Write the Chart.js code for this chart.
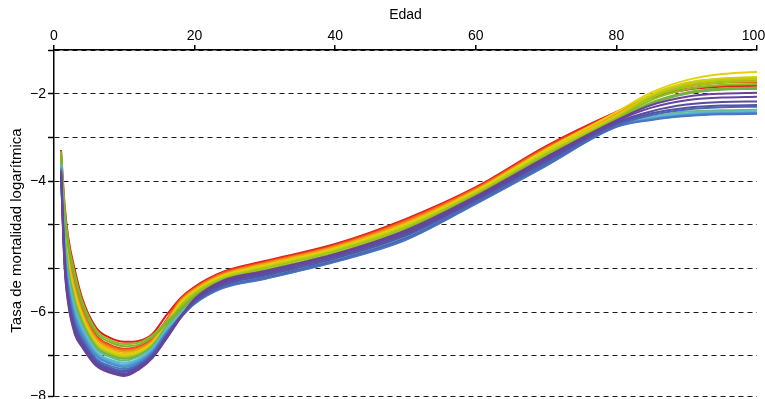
<!DOCTYPE html>
<html>
<head>
<meta charset="utf-8">
<script src="https://cdn.jsdelivr.net/npm/chart.js@4.4.1/dist/chart.umd.min.js"></script>
<style>
  html, body { margin: 0; padding: 0; background: #ffffff; }
  canvas { display: block; }
</style>
</head>
<body>
<canvas id="chart" width="765" height="399"></canvas>
<script>
// Ages (years) at which each curve is sampled
const ages = [1, 1.5, 2, 3, 4, 6, 8, 10, 12, 14, 16, 18, 20, 24, 30, 40, 50, 60, 70, 80, 85, 90, 95, 100];

// Smoothed log mortality curves, one per period (red = earliest ... purple = latest)
const s0  = [-3.29,-4.52,-5.26,-6.06,-6.68,-7.36,-7.59,-7.68,-7.66,-7.50,-7.07,-6.68,-6.42,-6.08,-5.83,-5.44,-4.87,-4.14,-3.20,-2.42,-2.09,-1.91,-1.84,-1.82];
const s1  = [-3.40,-4.80,-5.57,-6.35,-6.90,-7.53,-7.75,-7.84,-7.79,-7.61,-7.18,-6.70,-6.44,-6.10,-5.85,-5.46,-4.89,-4.16,-3.22,-2.43,-2.08,-1.89,-1.81,-1.79];
const s2  = [-3.42,-4.85,-5.61,-6.40,-6.94,-7.56,-7.77,-7.86,-7.81,-7.63,-7.19,-6.72,-6.46,-6.11,-5.87,-5.48,-4.91,-4.17,-3.24,-2.45,-2.05,-1.84,-1.75,-1.73];
const s3  = [-3.43,-4.89,-5.66,-6.44,-6.97,-7.59,-7.80,-7.88,-7.83,-7.64,-7.21,-6.74,-6.47,-6.13,-5.88,-5.49,-4.93,-4.19,-3.26,-2.46,-2.04,-1.81,-1.71,-1.69];
const s4  = [-3.46,-4.95,-5.72,-6.50,-7.02,-7.62,-7.83,-7.91,-7.86,-7.67,-7.23,-6.76,-6.49,-6.15,-5.90,-5.51,-4.96,-4.21,-3.28,-2.48,-2.03,-1.78,-1.68,-1.66];
const s5  = [-3.48,-5.02,-5.80,-6.57,-7.07,-7.67,-7.87,-7.95,-7.89,-7.69,-7.26,-6.78,-6.51,-6.16,-5.92,-5.53,-4.98,-4.22,-3.30,-2.50,-2.02,-1.75,-1.65,-1.62];
const s6  = [-3.50,-5.06,-5.84,-6.62,-7.11,-7.69,-7.89,-7.98,-7.91,-7.71,-7.28,-6.80,-6.53,-6.18,-5.94,-5.55,-5.00,-4.24,-3.28,-2.42,-1.97,-1.69,-1.55,-1.50];
const s7  = [-3.52,-5.10,-5.89,-6.66,-7.14,-7.72,-7.92,-8.00,-7.93,-7.73,-7.29,-6.82,-6.55,-6.20,-5.96,-5.57,-5.02,-4.26,-3.34,-2.53,-2.03,-1.76,-1.66,-1.63];
const s8  = [-3.54,-5.16,-5.95,-6.72,-7.18,-7.75,-7.95,-8.03,-7.96,-7.75,-7.31,-6.85,-6.56,-6.22,-5.98,-5.59,-5.05,-4.28,-3.37,-2.55,-2.06,-1.79,-1.69,-1.66];
const s9  = [-3.55,-5.20,-5.99,-6.76,-7.22,-7.78,-7.97,-8.05,-7.98,-7.76,-7.33,-6.87,-6.58,-6.24,-6.00,-5.61,-5.07,-4.30,-3.39,-2.56,-2.09,-1.84,-1.74,-1.71];
const s10 = [-3.32,-4.61,-5.35,-6.15,-6.75,-7.41,-7.64,-7.73,-7.70,-7.53,-7.22,-6.91,-6.62,-6.27,-6.04,-5.65,-5.11,-4.33,-3.43,-2.59,-2.14,-1.90,-1.80,-1.78];
const s11 = [-3.36,-4.71,-5.46,-6.25,-6.83,-7.47,-7.69,-7.78,-7.75,-7.57,-7.26,-6.94,-6.65,-6.30,-6.07,-5.68,-5.15,-4.36,-3.46,-2.62,-2.20,-1.97,-1.88,-1.86];
const s12 = [-3.57,-5.23,-6.03,-6.79,-7.24,-7.80,-7.99,-8.07,-7.99,-7.78,-7.34,-6.98,-6.68,-6.32,-6.10,-5.71,-5.19,-4.39,-3.50,-2.64,-2.23,-2.00,-1.91,-1.89];
const s13 = [-3.59,-5.30,-6.10,-6.86,-7.30,-7.84,-8.03,-8.11,-8.02,-7.80,-7.37,-7.01,-6.71,-6.35,-6.13,-5.74,-5.23,-4.42,-3.53,-2.70,-2.53,-2.41,-2.38,-2.37];
const s14 = [-3.63,-5.40,-6.21,-6.97,-7.37,-7.90,-8.09,-8.16,-8.07,-7.84,-7.40,-7.06,-6.75,-6.40,-6.18,-5.79,-5.28,-4.46,-3.58,-2.71,-2.54,-2.45,-2.41,-2.40];
const s15 = [-3.65,-5.46,-6.27,-7.02,-7.42,-7.93,-8.12,-8.20,-8.10,-7.86,-7.43,-7.09,-6.77,-6.41,-6.20,-5.81,-5.30,-4.48,-3.61,-2.73,-2.56,-2.47,-2.43,-2.42];
const s16 = [-3.68,-5.51,-6.33,-7.08,-7.46,-7.97,-8.15,-8.23,-8.12,-7.89,-7.45,-7.10,-6.79,-6.43,-6.22,-5.83,-5.32,-4.50,-3.62,-2.74,-2.58,-2.49,-2.45,-2.44];
const s17 = [-3.70,-5.57,-6.39,-7.14,-7.51,-8.00,-8.18,-8.26,-8.15,-7.91,-7.47,-7.12,-6.80,-6.44,-6.23,-5.84,-5.34,-4.51,-3.64,-2.75,-2.59,-2.50,-2.46,-2.45];
const s18 = [-3.73,-5.66,-6.48,-7.23,-7.58,-8.06,-8.23,-8.30,-8.19,-7.94,-7.50,-7.13,-6.81,-6.45,-6.24,-5.85,-5.35,-4.52,-3.65,-2.76,-2.60,-2.51,-2.47,-2.46];
const s19 = [-3.76,-5.73,-6.56,-7.30,-7.63,-8.10,-8.27,-8.34,-8.22,-7.97,-7.53,-7.09,-6.78,-6.42,-6.21,-5.82,-5.31,-4.49,-3.61,-2.73,-2.49,-2.36,-2.31,-2.30];
const s20 = [-3.78,-5.78,-6.62,-7.36,-7.68,-8.13,-8.30,-8.37,-8.25,-7.99,-7.55,-7.10,-6.76,-6.38,-6.16,-5.77,-5.25,-4.44,-3.56,-2.69,-2.45,-2.32,-2.27,-2.26];
const s21 = [-3.80,-5.84,-6.68,-7.42,-7.72,-8.17,-8.33,-8.41,-8.27,-8.01,-7.57,-7.11,-6.73,-6.34,-6.12,-5.73,-5.21,-4.41,-3.52,-2.66,-2.40,-2.25,-2.19,-2.18];
const s22 = [-3.82,-5.90,-6.74,-7.48,-7.77,-8.20,-8.37,-8.44,-8.30,-8.03,-7.59,-7.12,-6.71,-6.31,-6.08,-5.69,-5.17,-4.38,-3.48,-2.63,-2.32,-2.15,-2.09,-2.07];
const s23 = [-3.84,-5.94,-6.79,-7.52,-7.80,-8.23,-8.39,-8.46,-8.32,-8.05,-7.61,-7.13,-6.70,-6.28,-6.06,-5.67,-5.13,-4.35,-3.45,-2.61,-2.26,-2.07,-2.00,-1.98];

const seriesValues = [s0, s1, s2, s3, s4, s5, s6, s7, s8, s9, s10, s11,
                      s12, s13, s14, s15, s16, s17, s18, s19, s20, s21, s22, s23];

// Rainbow palette, red through purple
const seriesColors = [
  '#e41a1c', '#e8351b', '#ee5a19', '#f27c17', '#f59d16', '#efbb12',
  '#e2d20c', '#ccd20e', '#b6cc14', '#a0c41a', '#8cbc22', '#7cb42a',
  '#72b04a', '#68b88a', '#5ec0c0', '#58b4dc', '#52a0d8', '#4e8ccc',
  '#4a78c0', '#4c66b4', '#5256a8', '#5a4ca2', '#62469e', '#6a4299'
];

// Axis ticks
const xTickValues = [0, 20, 40, 60, 80, 100];
const yGridValues = [-1, -2, -3, -4, -5, -6, -7, -8, -8.92];
const yTickLabels = ['', '\u22122', '', '\u22124', '', '', '\u22126', '', '\u22128'];

const FONT = '"Liberation Sans", Arial, Helvetica, sans-serif';
Chart.defaults.font.family = FONT;
Chart.defaults.color = '#000000';

const datasets = seriesValues.map((vals, i) => ({
  data: ages.map((a, j) => ({ x: a, y: vals[j] })),
  borderColor: seriesColors[i],
  borderWidth: 2,
  pointRadius: 0,
  pointHoverRadius: 0,
  fill: false,
  cubicInterpolationMode: 'monotone',
  order: seriesValues.length - i
}));

new Chart(document.getElementById('chart'), {
  type: 'line',
  data: { datasets },
  options: {
    responsive: false,
    animation: false,
    devicePixelRatio: 1,
    layout: { padding: { left: 0, right: 8, top: 0, bottom: 3 } },
    plugins: {
      legend: { display: false },
      tooltip: { enabled: false }
    },
    scales: {
      x: {
        type: 'linear',
        position: 'top',
        min: 0,
        max: 100,
        afterBuildTicks: (scale) => { scale.ticks = xTickValues.map(v => ({ value: v })); },
        afterFit: (scale) => { scale.height = 50; scale.paddingLeft = 0; scale.paddingRight = 0; },
        ticks: {
          font: { size: 14 },
          color: '#000',
          padding: 0,
          maxRotation: 0,
          autoSkip: false,
          callback: (v) => (v === 100 ? '100\u2002' : String(v))
        },
        grid: {
          drawOnChartArea: false,
          drawTicks: true,
          tickLength: 5,
          color: '#000',
          lineWidth: 1.5
        },
        border: { display: true, color: '#000', width: 1.5 },
        title: {
          display: true,
          text: 'Edad',
          color: '#000',
          font: { size: 14 },
          padding: { top: 7, bottom: 0 }
        }
      },
      y: {
        type: 'linear',
        position: 'left',
        min: -8.92,
        max: -1,
        afterBuildTicks: (scale) => { scale.ticks = yGridValues.map(v => ({ value: v })); },
        afterFit: (scale) => { scale.width = 54; scale.paddingTop = 0; scale.paddingBottom = 0; },
        ticks: {
          font: { size: 14 },
          color: '#000',
          padding: 2,
          autoSkip: false,
          callback: (v) => {
            const k = yGridValues.indexOf(v);
            return k >= 0 ? yTickLabels[k] : '';
          }
        },
        grid: {
          drawOnChartArea: true,
          drawTicks: true,
          tickLength: 6,
          color: '#1a1a1a',
          lineWidth: 1,
          tickColor: '#000',
          tickWidth: 1.5,
          tickBorderDash: []
        },
        border: { display: true, color: '#000', width: 1.5, dash: [5, 4] },
        title: {
          display: true,
          text: 'Tasa de mortalidad logarítmica\u2003',
          color: '#000',
          font: { size: 15 },
          padding: { top: 8, bottom: 0 }
        }
      }
    }
  }
});
</script>
</body>
</html>
